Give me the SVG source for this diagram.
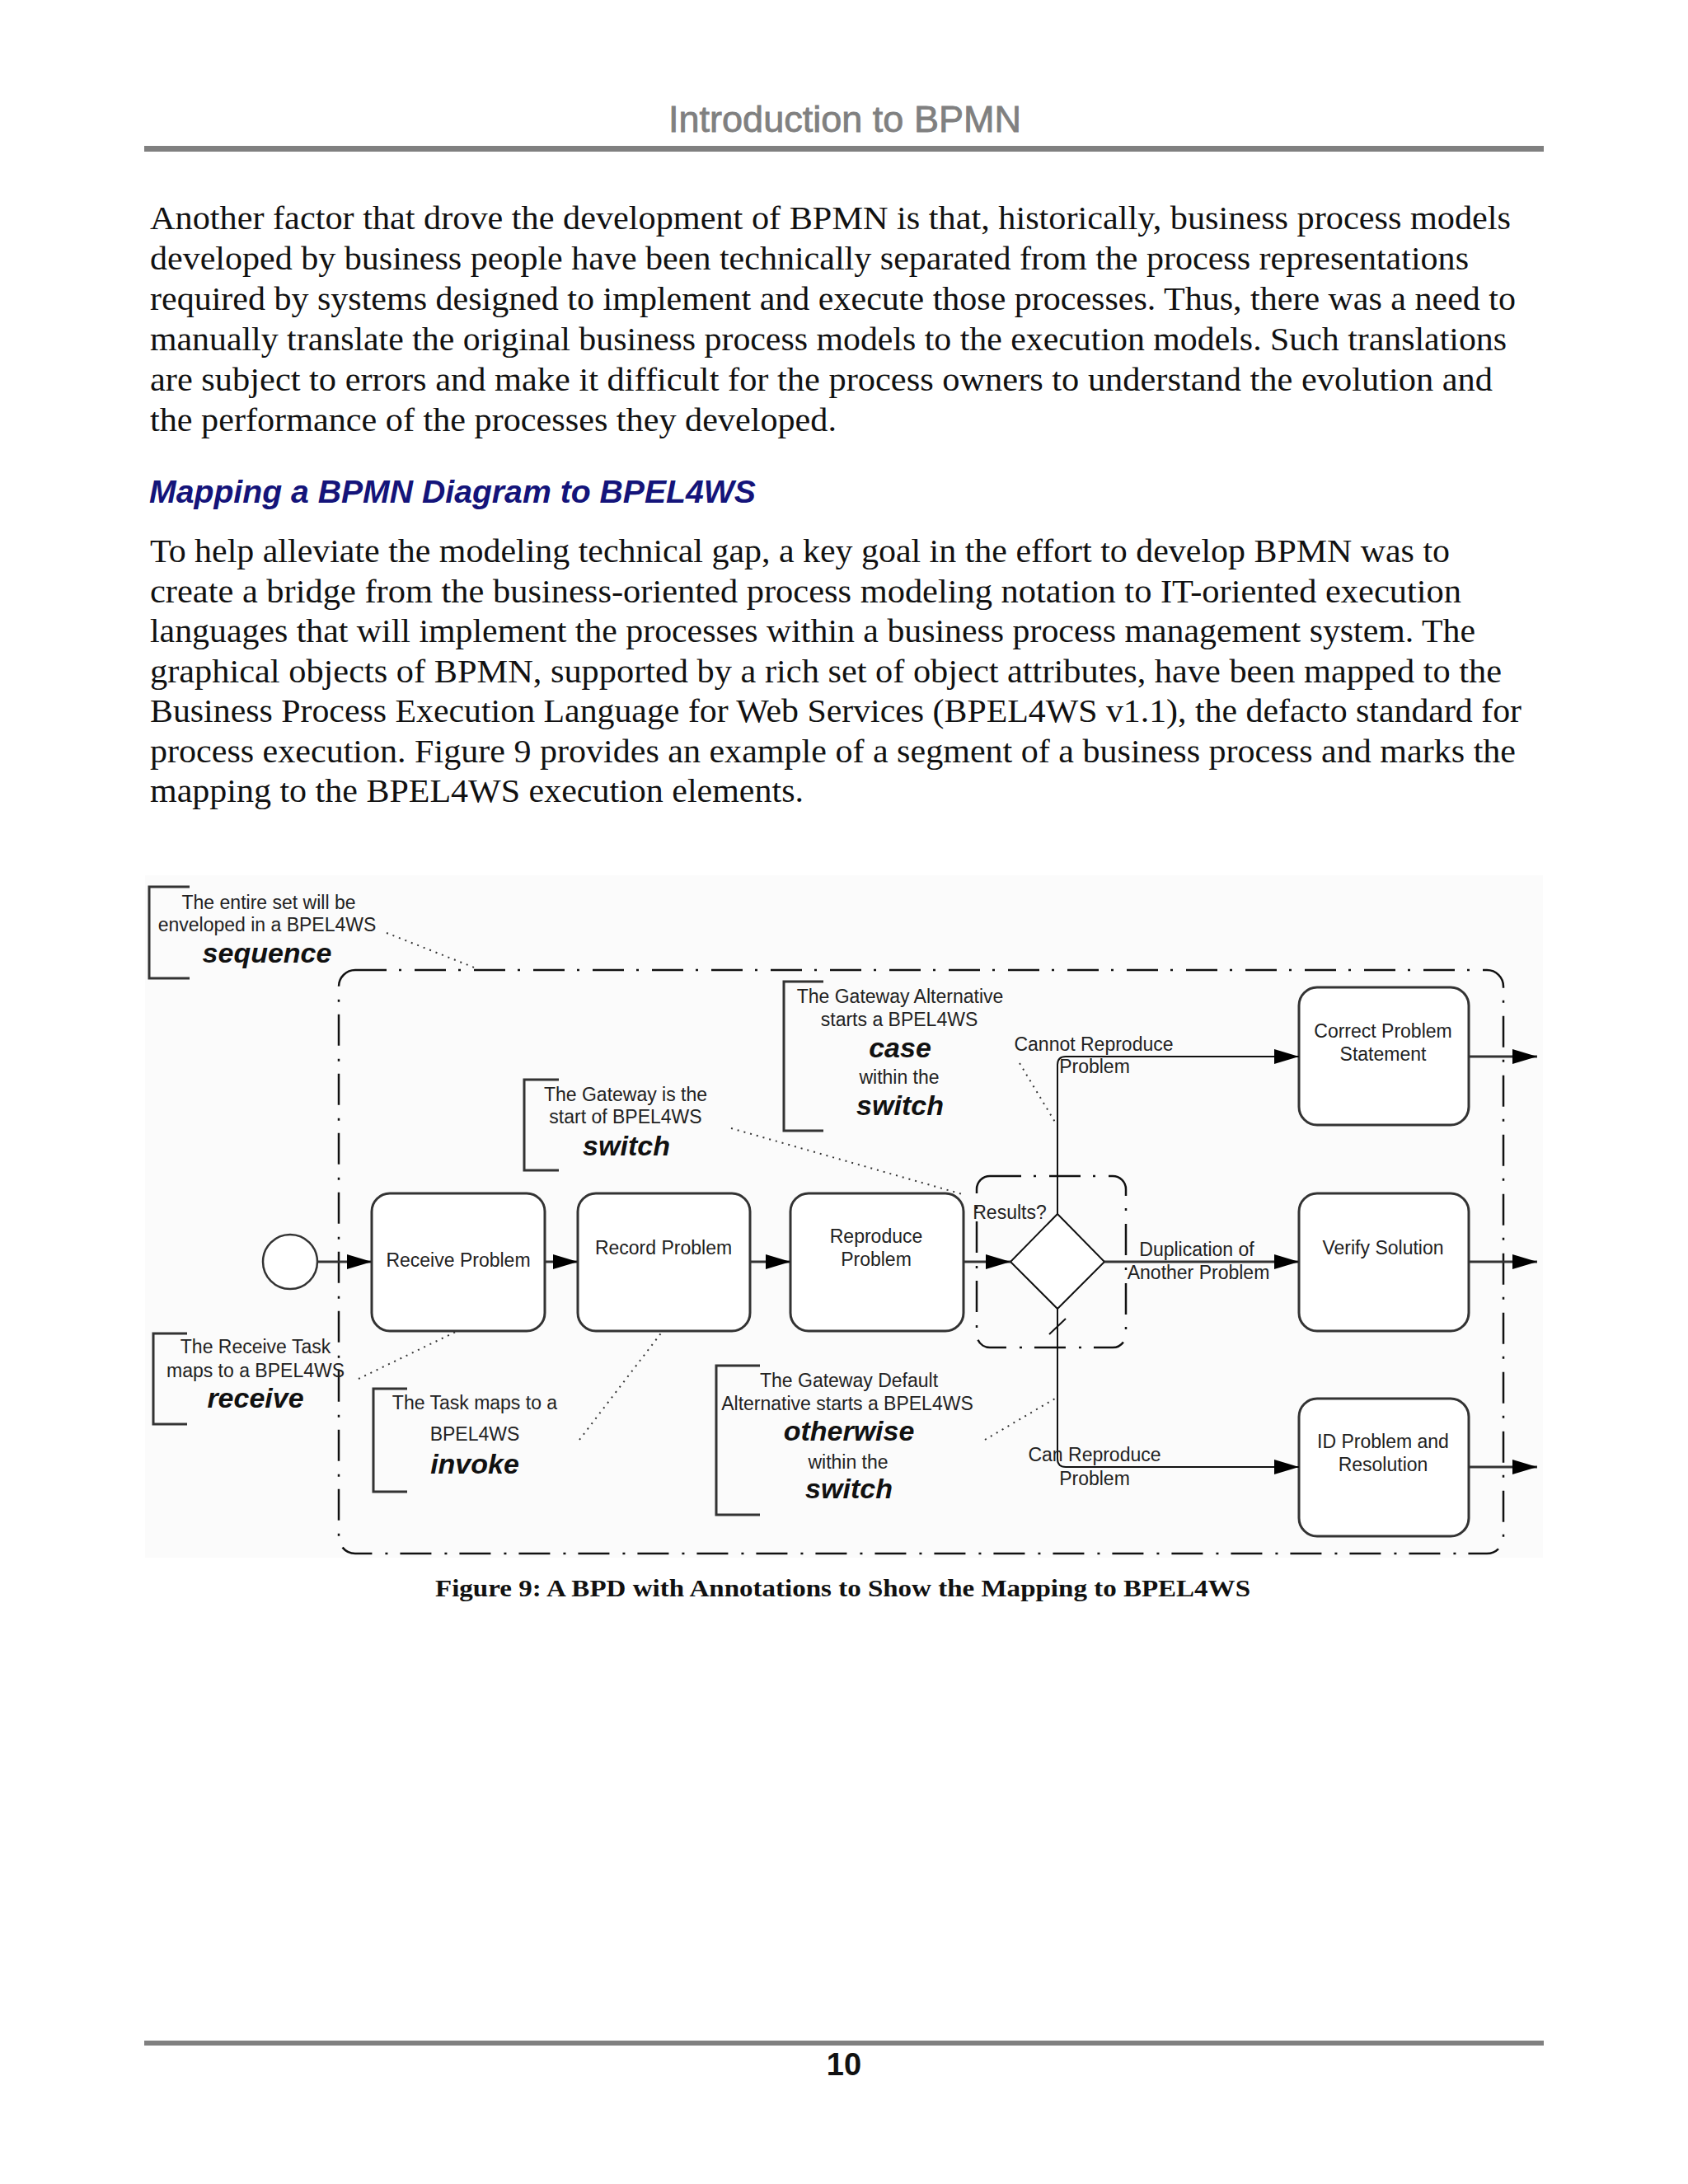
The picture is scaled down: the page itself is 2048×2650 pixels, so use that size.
<svg xmlns="http://www.w3.org/2000/svg" width="2048" height="2650" viewBox="0 0 2048 2650">
<defs>
<style>
.body{font-family:"Liberation Serif","Times New Roman",serif;font-size:39px;fill:#111}
.lbl{font-family:"Liberation Sans",Arial,sans-serif;font-size:23px;fill:#222;text-anchor:middle}
.kw{font-family:"Liberation Sans",Arial,sans-serif;font-size:34px;font-weight:bold;font-style:italic;fill:#111;text-anchor:middle}
.task{fill:#fff;stroke:#333;stroke-width:3}
.brk{fill:none;stroke:#333;stroke-width:3}
.dd{fill:none;stroke:#111;stroke-width:2.5;stroke-dasharray:38 15 3 16}
.flow{fill:none;stroke:#333;stroke-width:3}
.thin{fill:none;stroke:#111;stroke-width:2}
.assoc{fill:none;stroke:#333;stroke-width:2;stroke-dasharray:2 6}
</style>
<marker id="arr" markerUnits="userSpaceOnUse" markerWidth="30" markerHeight="18" refX="30" refY="9" orient="auto">
<path d="M0,0 L30,9 L0,18 z" fill="#000"/>
</marker>
</defs>
<rect width="2048" height="2650" fill="#fff"/>
<g id="header">
<text x="811" y="160" font-family="Liberation Sans,Arial,sans-serif" font-size="44" fill="#808080" stroke="#808080" stroke-width="0.8" textLength="428" lengthAdjust="spacingAndGlyphs">Introduction to BPMN</text>
<rect x="175" y="177" width="1698" height="7" fill="#808080"/>
</g>
<g id="para1" class="body">
<text class="body" x="182" y="278" textLength="1651" lengthAdjust="spacingAndGlyphs">Another factor that drove the development of BPMN is that, historically, business process models</text>
<text class="body" x="182" y="327" textLength="1600" lengthAdjust="spacingAndGlyphs">developed by business people have been technically separated from the process representations</text>
<text class="body" x="182" y="376" textLength="1657" lengthAdjust="spacingAndGlyphs">required by systems designed to implement and execute those processes. Thus, there was a need to</text>
<text class="body" x="182" y="425" textLength="1646" lengthAdjust="spacingAndGlyphs">manually translate the original business process models to the execution models. Such translations</text>
<text class="body" x="182" y="474" textLength="1629" lengthAdjust="spacingAndGlyphs">are subject to errors and make it difficult for the process owners to understand the evolution and</text>
<text class="body" x="182" y="523" textLength="833" lengthAdjust="spacingAndGlyphs">the performance of the processes they developed.</text>
</g>
<text id="heading" x="181" y="610" font-family="Liberation Sans,Arial,sans-serif" font-size="39" font-weight="bold" font-style="italic" fill="#14147a" textLength="736" lengthAdjust="spacingAndGlyphs">Mapping a BPMN Diagram to BPEL4WS</text>
<g id="para2">
<text class="body" x="182" y="682" textLength="1577" lengthAdjust="spacingAndGlyphs">To help alleviate the modeling technical gap, a key goal in the effort to develop BPMN was to</text>
<text class="body" x="182" y="730.5" textLength="1591" lengthAdjust="spacingAndGlyphs">create a bridge from the business-oriented process modeling notation to IT-oriented execution</text>
<text class="body" x="182" y="779" textLength="1608" lengthAdjust="spacingAndGlyphs">languages that will implement the processes within a business process management system. The</text>
<text class="body" x="182" y="827.5" textLength="1640" lengthAdjust="spacingAndGlyphs">graphical objects of BPMN, supported by a rich set of object attributes, have been mapped to the</text>
<text class="body" x="182" y="876" textLength="1664" lengthAdjust="spacingAndGlyphs">Business Process Execution Language for Web Services (BPEL4WS v1.1), the defacto standard for</text>
<text class="body" x="182" y="924.5" textLength="1657" lengthAdjust="spacingAndGlyphs">process execution. Figure 9 provides an example of a segment of a business process and marks the</text>
<text class="body" x="182" y="973" textLength="793" lengthAdjust="spacingAndGlyphs">mapping to the BPEL4WS execution elements.</text>
</g>
<rect x="176" y="1062" width="1696" height="828" fill="#fbfbfb"/>
<g id="sequence-container">
<rect class="dd" x="411" y="1177" width="1413" height="708" rx="20"/>
</g>
<g id="gateway-group">
<rect class="dd" x="1185" y="1427" width="181" height="208" rx="16"/>
</g>
<g id="start-event"><circle cx="352" cy="1531" r="33" fill="#fff" stroke="#333" stroke-width="2.5"/></g>
<g id="receive-problem"><rect class="task" x="451" y="1448" width="210" height="167" rx="22"/><text class="lbl" x="556" y="1537">Receive Problem</text></g>
<g id="record-problem"><rect class="task" x="701" y="1448" width="209" height="167" rx="22"/><text class="lbl" x="805" y="1522">Record Problem</text></g>
<g id="reproduce-problem"><rect class="task" x="959" y="1448" width="210" height="167" rx="22"/><text class="lbl" x="1063" y="1508">Reproduce</text><text class="lbl" x="1063" y="1536">Problem</text></g>
<g id="gateway"><path d="M1283,1473 L1340,1531 L1283,1588 L1226,1531 Z" fill="#fff" stroke="#111" stroke-width="2"/><text class="lbl" x="1225" y="1479">Results?</text></g>
<g id="correct-problem"><rect class="task" x="1576" y="1198" width="206" height="167" rx="22"/><text class="lbl" x="1678" y="1259">Correct Problem</text><text class="lbl" x="1678" y="1287">Statement</text></g>
<g id="verify-solution"><rect class="task" x="1576" y="1448" width="206" height="167" rx="22"/><text class="lbl" x="1678" y="1522">Verify Solution</text></g>
<g id="id-problem"><rect class="task" x="1576" y="1697" width="206" height="167" rx="22"/><text class="lbl" x="1678" y="1757">ID Problem and</text><text class="lbl" x="1678" y="1785">Resolution</text></g>
<g id="connectors">
<line class="flow" x1="385" y1="1531" x2="451" y2="1531" marker-end="url(#arr)"/>
<line class="flow" x1="661" y1="1531" x2="701" y2="1531" marker-end="url(#arr)"/>
<line class="flow" x1="910" y1="1531" x2="959" y2="1531" marker-end="url(#arr)"/>
<line class="flow" x1="1169" y1="1531" x2="1226" y2="1531" marker-end="url(#arr)"/>
<path class="thin" d="M1283,1473 L1283,1292 Q1283,1282 1293,1282 L1576,1282" marker-end="url(#arr)"/>
<line class="flow" x1="1340" y1="1531" x2="1576" y2="1531" marker-end="url(#arr)"/>
<path class="thin" d="M1283,1588 L1283,1770 Q1283,1780 1293,1780 L1576,1780" marker-end="url(#arr)"/>
<line class="thin" x1="1273" y1="1619" x2="1293" y2="1600"/>
<line class="flow" x1="1782" y1="1282" x2="1865" y2="1282" marker-end="url(#arr)"/>
<line class="flow" x1="1782" y1="1531" x2="1865" y2="1531" marker-end="url(#arr)"/>
<line class="flow" x1="1782" y1="1780" x2="1865" y2="1780" marker-end="url(#arr)"/>
<line class="assoc" x1="469" y1="1132" x2="578" y2="1175"/>
<line class="assoc" x1="887" y1="1369" x2="1171" y2="1450"/>
<line class="assoc" x1="1237" y1="1290" x2="1281" y2="1363"/>
<line class="assoc" x1="435" y1="1673" x2="555" y2="1615"/>
<line class="assoc" x1="703" y1="1747" x2="804" y2="1615"/>
<line class="assoc" x1="1195" y1="1747" x2="1280" y2="1697"/>
</g>
<g id="flow-labels">
<text class="lbl" x="1327" y="1275">Cannot Reproduce</text>
<text class="lbl" x="1328" y="1302">Problem</text>
<text class="lbl" x="1452" y="1524">Duplication of</text>
<text class="lbl" x="1454" y="1552">Another Problem</text>
<text class="lbl" x="1328" y="1773">Can Reproduce</text>
<text class="lbl" x="1328" y="1802">Problem</text>
</g>
<g id="note-sequence">
<path class="brk" d="M230,1076 L181,1076 L181,1187 L230,1187"/>
<text class="lbl" x="326" y="1103">The entire set will be</text>
<text class="lbl" x="324" y="1130">enveloped in a BPEL4WS</text>
<text class="kw" x="324" y="1168">sequence</text>
</g>
<g id="note-switch">
<path class="brk" d="M678,1310 L636,1310 L636,1420 L678,1420"/>
<text class="lbl" x="759" y="1336">The Gateway is the</text>
<text class="lbl" x="759" y="1363">start of BPEL4WS</text>
<text class="kw" x="760" y="1402">switch</text>
</g>
<g id="note-case">
<path class="brk" d="M999,1191 L951,1191 L951,1372 L999,1372"/>
<text class="lbl" x="1092" y="1217">The Gateway Alternative</text>
<text class="lbl" x="1091" y="1245">starts a BPEL4WS</text>
<text class="kw" x="1092" y="1283">case</text>
<text class="lbl" x="1091" y="1315">within the</text>
<text class="kw" x="1092" y="1353">switch</text>
</g>
<g id="note-receive">
<path class="brk" d="M227,1618 L186,1618 L186,1728 L227,1728"/>
<text class="lbl" x="310" y="1642">The Receive Task</text>
<text class="lbl" x="310" y="1671">maps to a BPEL4WS</text>
<text class="kw" x="310" y="1708">receive</text>
</g>
<g id="note-invoke">
<path class="brk" d="M494,1685 L453,1685 L453,1810 L494,1810"/>
<text class="lbl" x="576" y="1710">The Task maps to a</text>
<text class="lbl" x="576" y="1748">BPEL4WS</text>
<text class="kw" x="576" y="1788">invoke</text>
</g>
<g id="note-otherwise">
<path class="brk" d="M922,1657 L869,1657 L869,1838 L922,1838"/>
<text class="lbl" x="1030" y="1683">The Gateway Default</text>
<text class="lbl" x="1028" y="1711">Alternative starts a BPEL4WS</text>
<text class="kw" x="1030" y="1748">otherwise</text>
<text class="lbl" x="1029" y="1782">within the</text>
<text class="kw" x="1030" y="1818">switch</text>
</g>
<text id="caption" x="528" y="1937" font-family="Liberation Serif,Times New Roman,serif" font-size="30" font-weight="bold" fill="#111" textLength="989" lengthAdjust="spacingAndGlyphs">Figure 9: A BPD with Annotations to Show the Mapping to BPEL4WS</text>
<g id="footer">
<rect x="175" y="2476" width="1698" height="6" fill="#808080"/>
<text x="1024" y="2518" font-family="Liberation Sans,Arial,sans-serif" font-size="38" font-weight="bold" fill="#111" text-anchor="middle">10</text>
</g>
</svg>
